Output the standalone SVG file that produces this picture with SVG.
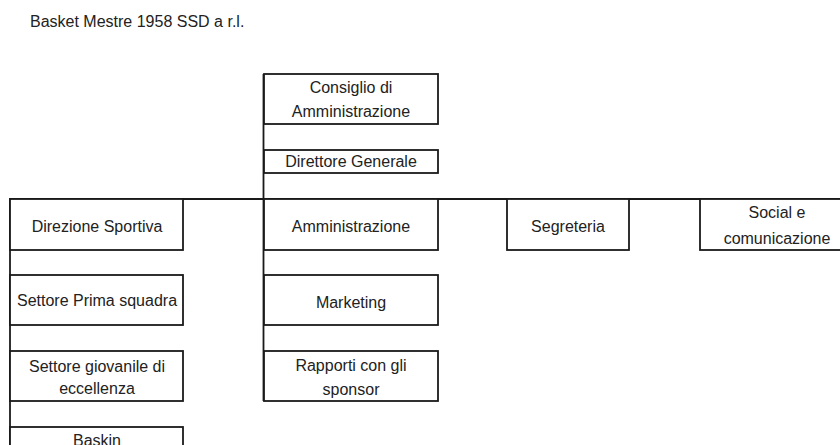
<svg xmlns="http://www.w3.org/2000/svg" width="840" height="445" viewBox="0 0 840 445">
<style>
.box{fill:#fff;stroke:#1a1a1a;stroke-width:1.8}
.ln{stroke:#1a1a1a;stroke-width:1.8;fill:none}
text{font-family:"Liberation Sans",Arial,sans-serif;font-size:16px;fill:#222;text-anchor:middle}
.title{text-anchor:start}
</style>
<rect width="840" height="445" fill="#fff"/>
<text class="title" x="30" y="27">Basket Mestre 1958 SSD a r.l.</text>
<g id="connectors">
<line class="ln" x1="9.1" y1="199" x2="840" y2="199"/>
<line class="ln" x1="263.5" y1="74" x2="263.5" y2="401"/>
<line class="ln" x1="10" y1="199" x2="10" y2="445"/>
</g>
<g id="consiglio"><rect class="box" x="264" y="74" width="174" height="50"/><text x="351" y="93">Consiglio di</text><text x="351" y="117">Amministrazione</text></g>
<g id="direttore"><rect class="box" x="264" y="150" width="174" height="23"/><text x="351" y="167">Direttore Generale</text></g>
<g id="direzione"><rect class="box" x="10" y="199" width="173" height="51"/><text x="97" y="232">Direzione Sportiva</text></g>
<g id="prima"><rect class="box" x="10" y="275" width="173" height="50"/><text x="97" y="306">Settore Prima squadra</text></g>
<g id="giovanile"><rect class="box" x="10" y="351" width="173" height="50"/><text x="97" y="372">Settore giovanile di</text><text x="97" y="394">eccellenza</text></g>
<g id="baskin"><rect class="box" x="10" y="427" width="173" height="50"/><text x="97" y="446">Baskin</text></g>
<g id="amministrazione"><rect class="box" x="264" y="199" width="174" height="51"/><text x="351" y="232">Amministrazione</text></g>
<g id="marketing"><rect class="box" x="264" y="275" width="174" height="50"/><text x="351" y="308">Marketing</text></g>
<g id="rapporti"><rect class="box" x="264" y="351" width="174" height="50"/><text x="351" y="371">Rapporti con gli</text><text x="351" y="395">sponsor</text></g>
<g id="segreteria"><rect class="box" x="507" y="199" width="122" height="51"/><text x="568" y="232">Segreteria</text></g>
<g id="social"><rect class="box" x="700" y="199" width="160" height="51"/><text x="777" y="218">Social e</text><text x="777" y="244">comunicazione</text></g>
</svg>
